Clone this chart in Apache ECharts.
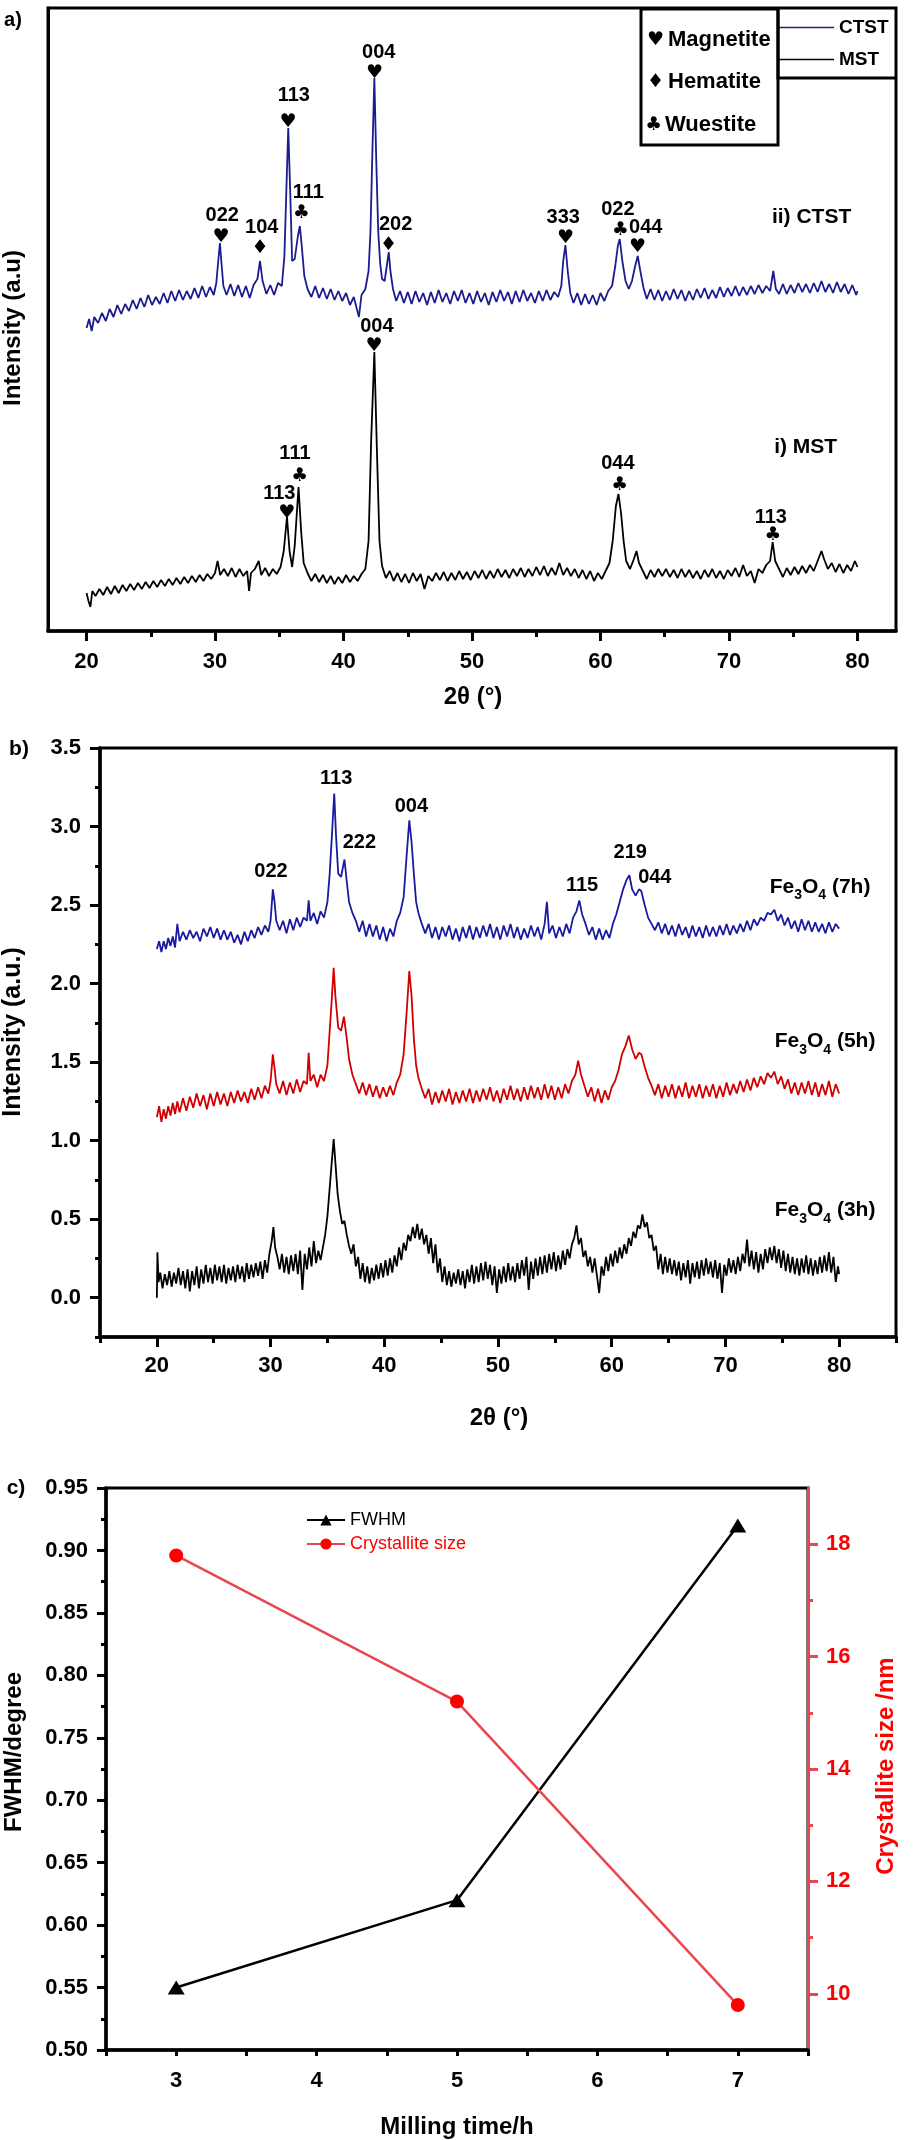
<!DOCTYPE html>
<html>
<head>
<meta charset="utf-8">
<script src="https://cdn.jsdelivr.net/npm/echarts@6/dist/echarts.min.js"></script>
<style>html,body{margin:0;padding:0;background:#fff;}#c{width:913px;height:2140px;}</style>
</head>
<body>
<div id="c"></div>
<script>
// ---------------- Panel a: XRD of CTST / MST (relative intensity, arbitrary units) ----------------
const ctst = [[20.0,303],[20.2,312],[20.4,300],[20.6,314],[20.9,308],[21.2,318],[21.5,310],[21.8,322],[22.1,314],[22.4,326],[22.7,317],[23.0,327],[23.3,320],[23.6,331],[23.9,322],[24.2,333],[24.5,324],[24.8,336],[25.1,326],[25.4,334],[25.7,327],[26.0,338],[26.3,328],[26.6,340],[26.9,330],[27.2,341],[27.5,331],[27.8,340],[28.1,332],[28.4,343],[28.7,333],[29.0,345],[29.3,334],[29.6,344],[29.9,336],[30.1,348],[30.25,370],[30.38,388],[30.5,368],[30.65,345],[30.9,336],[31.2,347],[31.5,335],[31.8,346],[32.1,334],[32.4,345],[32.7,333],[33.0,346],[33.3,352],[33.5,370],[33.7,350],[34.0,337],[34.3,346],[34.6,336],[34.9,348],[35.2,345],[35.4,375],[35.55,440],[35.7,503],[35.85,440],[36.0,370],[36.2,372],[36.45,395],[36.6,405],[36.75,385],[36.95,355],[37.2,342],[37.5,334],[37.8,345],[38.1,333],[38.4,343],[38.7,332],[39.0,342],[39.3,331],[39.6,340],[39.9,330],[40.2,338],[40.5,326],[40.8,334],[41.0,324],[41.2,314],[41.4,336],[41.7,342],[41.95,360],[42.1,400],[42.25,480],[42.4,553],[42.55,470],[42.7,400],[42.85,368],[43.0,352],[43.2,350],[43.4,368],[43.52,379],[43.65,360],[43.85,342],[44.1,330],[44.4,340],[44.7,328],[45.0,339],[45.3,327],[45.6,340],[45.9,329],[46.2,338],[46.5,326],[46.8,339],[47.1,328],[47.4,341],[47.7,329],[48.0,338],[48.3,327],[48.6,340],[48.9,330],[49.2,341],[49.5,328],[49.8,338],[50.1,327],[50.4,340],[50.7,329],[51.0,338],[51.3,326],[51.6,339],[51.9,329],[52.2,341],[52.5,330],[52.8,339],[53.1,327],[53.4,340],[53.7,329],[54.0,341],[54.3,330],[54.6,338],[54.9,328],[55.2,340],[55.5,330],[55.8,341],[56.1,331],[56.4,339],[56.7,334],[56.95,345],[57.1,370],[57.27,386],[57.45,360],[57.65,338],[57.9,328],[58.2,338],[58.5,326],[58.8,337],[59.1,327],[59.4,336],[59.7,326],[60.0,338],[60.3,330],[60.6,340],[60.9,345],[61.15,365],[61.35,385],[61.5,392],[61.7,370],[61.95,350],[62.2,342],[62.45,350],[62.7,365],[62.9,375],[63.1,360],[63.35,343],[63.6,332],[63.9,342],[64.2,331],[64.5,341],[64.8,330],[65.1,340],[65.4,331],[65.7,342],[66.0,332],[66.3,341],[66.6,330],[66.9,340],[67.2,331],[67.5,342],[67.8,333],[68.1,343],[68.4,332],[68.7,341],[69.0,333],[69.3,344],[69.6,334],[69.9,343],[70.2,335],[70.5,345],[70.8,335],[71.1,344],[71.4,336],[71.7,345],[72.0,337],[72.3,346],[72.6,338],[72.9,345],[73.2,340],[73.45,360],[73.65,342],[73.9,337],[74.2,347],[74.5,337],[74.8,346],[75.1,338],[75.4,348],[75.7,339],[76.0,347],[76.3,338],[76.6,348],[76.9,339],[77.2,350],[77.5,339],[77.8,347],[78.1,338],[78.4,349],[78.7,339],[79.0,347],[79.3,337],[79.6,346],[79.9,336],[80.0,340]];
const mst = [[20.0,38],[20.15,30],[20.3,24],[20.45,40],[20.7,35],[21.0,42],[21.3,36],[21.6,44],[21.9,37],[22.2,45],[22.5,38],[22.8,46],[23.1,40],[23.4,47],[23.7,41],[24.0,48],[24.3,42],[24.6,49],[24.9,43],[25.2,50],[25.5,44],[25.8,51],[26.1,45],[26.4,52],[26.7,46],[27.0,53],[27.3,47],[27.6,54],[27.9,48],[28.2,55],[28.5,49],[28.8,56],[29.1,50],[29.4,57],[29.7,52],[30.0,58],[30.2,70],[30.4,56],[30.7,62],[31.0,55],[31.3,63],[31.6,54],[31.9,62],[32.2,55],[32.5,60],[32.65,40],[32.8,58],[33.1,62],[33.4,70],[33.6,56],[33.9,63],[34.2,55],[34.5,62],[34.8,57],[35.1,64],[35.35,80],[35.6,114],[35.8,80],[36.0,64],[36.2,85],[36.5,144],[36.7,100],[36.9,68],[37.2,58],[37.5,50],[37.8,57],[38.1,49],[38.4,56],[38.7,48],[39.0,55],[39.3,47],[39.6,54],[39.9,48],[40.2,56],[40.5,49],[40.8,55],[41.1,50],[41.4,57],[41.7,62],[41.95,90],[42.15,190],[42.4,279],[42.6,180],[42.8,90],[43.0,65],[43.3,53],[43.6,60],[43.9,50],[44.2,58],[44.5,49],[44.8,57],[45.1,48],[45.4,58],[45.7,50],[46.0,57],[46.3,42],[46.6,55],[46.9,50],[47.2,58],[47.5,51],[47.8,59],[48.1,50],[48.4,58],[48.7,51],[49.0,60],[49.3,52],[49.6,59],[49.9,51],[50.2,60],[50.5,53],[50.8,61],[51.1,52],[51.4,60],[51.7,53],[52.0,62],[52.3,54],[52.6,61],[52.9,53],[53.2,62],[53.5,55],[53.8,63],[54.1,54],[54.4,62],[54.7,55],[55.0,64],[55.3,56],[55.6,65],[55.9,55],[56.2,63],[56.5,56],[56.8,68],[57.1,56],[57.4,63],[57.7,55],[58.0,62],[58.3,53],[58.6,61],[58.9,52],[59.2,60],[59.5,50],[59.8,58],[60.1,52],[60.4,60],[60.7,68],[60.95,90],[61.2,125],[61.4,137],[61.6,118],[61.8,90],[62.0,70],[62.3,62],[62.6,72],[62.8,80],[63.0,68],[63.3,60],[63.6,52],[63.9,61],[64.2,54],[64.5,62],[64.8,55],[65.1,62],[65.4,54],[65.7,61],[66.0,53],[66.3,62],[66.6,54],[66.9,61],[67.2,53],[67.5,60],[67.8,52],[68.1,61],[68.4,54],[68.7,62],[69.0,53],[69.3,60],[69.6,52],[69.9,61],[70.2,55],[70.5,63],[70.8,54],[71.1,66],[71.4,55],[71.7,60],[72.0,48],[72.3,62],[72.6,58],[72.9,66],[73.2,70],[73.4,89],[73.6,70],[73.9,62],[74.2,54],[74.5,63],[74.8,56],[75.1,64],[75.4,57],[75.7,65],[76.0,58],[76.3,66],[76.6,60],[76.9,70],[77.2,80],[77.4,72],[77.7,62],[78.0,68],[78.3,59],[78.6,67],[78.9,58],[79.2,66],[79.5,60],[79.8,70],[80.0,64]];
const peakLabelsA = [[30.56,416,'022'],[33.64,404,'104'],[36.13,536,'113'],[37.26,439,'111'],[42.74,579,'004'],[44.06,407,'202'],[57.10,414,'333'],[61.35,422,'022'],[63.52,404,'044'],[42.60,305,'004'],[36.22,178,'111'],[35.00,138,'113'],[61.35,168,'044'],[73.26,114,'113']];
const phaseMarksA = [[30.47,394,'♥'],[33.50,383,'♦'],[35.68,509,'♥'],[36.72,418,'♣'],[42.42,558,'♥'],[43.51,386,'♦'],[57.27,393,'♥'],[61.53,401,'♣'],[62.89,384,'♥'],[42.38,285,'♥'],[36.58,155,'♣'],[35.59,118,'♥'],[61.48,146,'♣'],[73.40,96,'♣']];
const sampleLabelsA = [[76.43,414,'ii) CTST'],[75.97,184,'i) MST']];
const aXTicks = [20,30,40,50,60,70,80];
const aXMinor = [25,35,45,55,65,75];

// ---------------- Panel b: Fe3O4 milled 3h / 5h / 7h ----------------
const fe7h = [[20.0,2.22],[20.2,2.27],[20.4,2.20],[20.6,2.27],[20.8,2.22],[21.0,2.29],[21.2,2.24],[21.4,2.30],[21.6,2.23],[21.8,2.38],[22.0,2.27],[22.3,2.33],[22.6,2.28],[22.9,2.34],[23.2,2.29],[23.5,2.33],[23.8,2.27],[24.1,2.35],[24.4,2.30],[24.7,2.36],[25.0,2.29],[25.3,2.35],[25.6,2.28],[25.9,2.34],[26.2,2.28],[26.5,2.33],[26.8,2.26],[27.1,2.31],[27.4,2.25],[27.7,2.33],[28.0,2.27],[28.3,2.34],[28.6,2.29],[28.9,2.36],[29.2,2.31],[29.5,2.37],[29.8,2.33],[30.0,2.40],[30.2,2.60],[30.35,2.52],[30.5,2.40],[30.8,2.34],[31.1,2.40],[31.4,2.32],[31.7,2.41],[32.0,2.34],[32.3,2.42],[32.6,2.36],[32.9,2.42],[33.2,2.40],[33.35,2.53],[33.5,2.40],[33.8,2.45],[34.1,2.38],[34.4,2.46],[34.7,2.42],[35.0,2.52],[35.2,2.70],[35.4,2.95],[35.6,3.21],[35.75,2.95],[35.95,2.70],[36.2,2.68],[36.5,2.79],[36.7,2.65],[36.9,2.52],[37.2,2.45],[37.5,2.40],[37.8,2.33],[38.1,2.40],[38.4,2.30],[38.7,2.38],[39.0,2.30],[39.3,2.37],[39.6,2.28],[39.9,2.36],[40.2,2.27],[40.5,2.35],[40.8,2.30],[41.1,2.40],[41.4,2.45],[41.7,2.55],[41.95,2.80],[42.2,3.04],[42.4,2.90],[42.6,2.70],[42.8,2.52],[43.0,2.45],[43.3,2.38],[43.6,2.32],[43.9,2.38],[44.2,2.29],[44.5,2.36],[44.8,2.28],[45.1,2.36],[45.4,2.30],[45.7,2.37],[46.0,2.28],[46.3,2.35],[46.6,2.27],[46.9,2.36],[47.2,2.29],[47.5,2.37],[47.8,2.28],[48.1,2.36],[48.4,2.29],[48.7,2.37],[49.0,2.30],[49.3,2.38],[49.6,2.29],[49.9,2.36],[50.2,2.28],[50.5,2.37],[50.8,2.30],[51.1,2.38],[51.4,2.29],[51.7,2.36],[52.0,2.28],[52.3,2.35],[52.6,2.29],[52.9,2.37],[53.2,2.30],[53.5,2.36],[53.8,2.28],[54.1,2.38],[54.3,2.52],[54.5,2.32],[54.8,2.37],[55.1,2.29],[55.4,2.36],[55.7,2.30],[56.0,2.38],[56.3,2.32],[56.6,2.42],[56.9,2.46],[57.15,2.53],[57.4,2.44],[57.7,2.38],[58.0,2.31],[58.3,2.36],[58.6,2.28],[58.9,2.35],[59.2,2.28],[59.5,2.34],[59.8,2.29],[60.1,2.38],[60.4,2.44],[60.7,2.52],[61.0,2.60],[61.3,2.66],[61.55,2.69],[61.8,2.60],[62.1,2.56],[62.4,2.60],[62.6,2.59],[62.9,2.50],[63.2,2.42],[63.5,2.38],[63.8,2.34],[64.1,2.39],[64.4,2.32],[64.7,2.38],[65.0,2.31],[65.3,2.37],[65.6,2.30],[65.9,2.38],[66.2,2.31],[66.5,2.36],[66.8,2.29],[67.1,2.37],[67.4,2.30],[67.7,2.36],[68.0,2.29],[68.3,2.37],[68.6,2.30],[68.9,2.36],[69.2,2.30],[69.5,2.37],[69.8,2.31],[70.1,2.38],[70.4,2.31],[70.7,2.37],[71.0,2.32],[71.3,2.38],[71.6,2.33],[71.9,2.40],[72.2,2.34],[72.5,2.41],[72.8,2.37],[73.1,2.42],[73.4,2.40],[73.7,2.45],[74.0,2.44],[74.3,2.47],[74.6,2.40],[74.9,2.44],[75.2,2.37],[75.5,2.42],[75.8,2.35],[76.1,2.40],[76.4,2.33],[76.7,2.41],[77.0,2.34],[77.3,2.40],[77.6,2.33],[77.9,2.39],[78.2,2.33],[78.5,2.38],[78.8,2.32],[79.1,2.39],[79.4,2.33],[79.7,2.38],[80.0,2.35]];
const fe5h = [[20.0,1.15],[20.2,1.22],[20.4,1.12],[20.6,1.20],[20.8,1.14],[21.0,1.22],[21.2,1.16],[21.4,1.24],[21.6,1.17],[21.8,1.25],[22.0,1.18],[22.3,1.27],[22.6,1.19],[22.9,1.28],[23.2,1.21],[23.5,1.30],[23.8,1.22],[24.1,1.29],[24.4,1.20],[24.7,1.30],[25.0,1.22],[25.3,1.31],[25.6,1.23],[25.9,1.30],[26.2,1.22],[26.5,1.31],[26.8,1.24],[27.1,1.32],[27.4,1.25],[27.7,1.31],[28.0,1.24],[28.3,1.33],[28.6,1.26],[28.9,1.34],[29.2,1.27],[29.5,1.35],[29.8,1.30],[30.0,1.38],[30.2,1.55],[30.35,1.46],[30.5,1.36],[30.8,1.30],[31.1,1.38],[31.4,1.29],[31.7,1.37],[32.0,1.30],[32.3,1.39],[32.6,1.31],[32.9,1.38],[33.2,1.36],[33.35,1.56],[33.5,1.38],[33.8,1.42],[34.1,1.34],[34.4,1.42],[34.7,1.38],[35.0,1.48],[35.2,1.70],[35.4,1.92],[35.55,2.10],[35.7,1.92],[35.95,1.72],[36.2,1.70],[36.45,1.79],[36.7,1.65],[36.9,1.52],[37.2,1.42],[37.5,1.36],[37.8,1.30],[38.1,1.37],[38.4,1.29],[38.7,1.36],[39.0,1.28],[39.3,1.35],[39.6,1.27],[39.9,1.34],[40.2,1.28],[40.5,1.35],[40.8,1.29],[41.1,1.37],[41.4,1.42],[41.7,1.55],[41.95,1.80],[42.2,2.08],[42.4,1.92],[42.6,1.65],[42.8,1.48],[43.0,1.40],[43.3,1.33],[43.6,1.27],[43.9,1.33],[44.2,1.23],[44.5,1.31],[44.8,1.24],[45.1,1.32],[45.4,1.25],[45.7,1.33],[46.0,1.23],[46.3,1.31],[46.6,1.24],[46.9,1.32],[47.2,1.25],[47.5,1.33],[47.8,1.24],[48.1,1.32],[48.4,1.25],[48.7,1.33],[49.0,1.26],[49.3,1.34],[49.6,1.25],[49.9,1.32],[50.2,1.24],[50.5,1.33],[50.8,1.26],[51.1,1.35],[51.4,1.26],[51.7,1.33],[52.0,1.25],[52.3,1.34],[52.6,1.26],[52.9,1.35],[53.2,1.27],[53.5,1.34],[53.8,1.26],[54.1,1.36],[54.4,1.27],[54.7,1.35],[55.0,1.26],[55.3,1.34],[55.6,1.27],[55.9,1.36],[56.2,1.30],[56.5,1.38],[56.8,1.42],[57.05,1.51],[57.3,1.42],[57.6,1.35],[57.9,1.28],[58.2,1.34],[58.5,1.25],[58.8,1.33],[59.1,1.24],[59.4,1.32],[59.7,1.26],[60.0,1.34],[60.3,1.38],[60.6,1.45],[60.9,1.55],[61.2,1.60],[61.5,1.67],[61.8,1.58],[62.1,1.52],[62.4,1.56],[62.6,1.55],[62.9,1.47],[63.2,1.40],[63.5,1.35],[63.8,1.29],[64.1,1.36],[64.4,1.27],[64.7,1.35],[65.0,1.28],[65.3,1.36],[65.6,1.27],[65.9,1.35],[66.2,1.28],[66.5,1.37],[66.8,1.27],[67.1,1.35],[67.4,1.28],[67.7,1.36],[68.0,1.27],[68.3,1.35],[68.6,1.28],[68.9,1.36],[69.2,1.27],[69.5,1.35],[69.8,1.28],[70.1,1.37],[70.4,1.29],[70.7,1.36],[71.0,1.30],[71.3,1.38],[71.6,1.31],[71.9,1.39],[72.2,1.32],[72.5,1.40],[72.8,1.34],[73.1,1.41],[73.4,1.36],[73.7,1.43],[74.0,1.40],[74.3,1.44],[74.6,1.36],[74.9,1.41],[75.2,1.33],[75.5,1.39],[75.8,1.30],[76.1,1.37],[76.4,1.29],[76.7,1.37],[77.0,1.30],[77.3,1.38],[77.6,1.29],[77.9,1.37],[78.2,1.28],[78.5,1.36],[78.8,1.29],[79.1,1.38],[79.4,1.28],[79.7,1.36],[80.0,1.30]];
const fe3h = [[20.0,0.00],[20.05,0.29],[20.15,0.10],[20.3,0.16],[20.5,0.06],[20.7,0.15],[20.9,0.08],[21.1,0.17],[21.3,0.07],[21.5,0.16],[21.7,0.09],[21.9,0.19],[22.1,0.08],[22.3,0.17],[22.5,0.06],[22.7,0.18],[22.9,0.04],[23.1,0.17],[23.3,0.08],[23.5,0.20],[23.7,0.06],[23.9,0.18],[24.1,0.09],[24.3,0.21],[24.5,0.10],[24.7,0.19],[24.9,0.09],[25.1,0.21],[25.3,0.11],[25.5,0.20],[25.7,0.10],[25.9,0.21],[26.1,0.09],[26.3,0.19],[26.5,0.11],[26.7,0.20],[26.9,0.10],[27.1,0.21],[27.3,0.12],[27.5,0.20],[27.7,0.10],[27.9,0.22],[28.1,0.12],[28.3,0.21],[28.5,0.13],[28.7,0.22],[28.9,0.14],[29.1,0.23],[29.3,0.12],[29.5,0.24],[29.7,0.16],[29.9,0.28],[30.1,0.36],[30.25,0.45],[30.4,0.32],[30.6,0.26],[30.8,0.18],[31.0,0.28],[31.2,0.16],[31.4,0.26],[31.6,0.15],[31.8,0.27],[32.0,0.17],[32.2,0.28],[32.4,0.15],[32.6,0.30],[32.8,0.05],[33.0,0.28],[33.2,0.18],[33.4,0.32],[33.6,0.20],[33.8,0.36],[34.0,0.22],[34.2,0.30],[34.4,0.24],[34.6,0.32],[34.8,0.40],[35.0,0.52],[35.2,0.70],[35.4,0.88],[35.55,1.01],[35.7,0.86],[35.9,0.66],[36.1,0.55],[36.3,0.47],[36.5,0.49],[36.7,0.40],[36.9,0.33],[37.1,0.28],[37.3,0.34],[37.5,0.20],[37.7,0.26],[37.9,0.12],[38.1,0.22],[38.3,0.10],[38.5,0.20],[38.7,0.09],[38.9,0.19],[39.1,0.11],[39.3,0.21],[39.5,0.12],[39.7,0.22],[39.9,0.13],[40.1,0.24],[40.3,0.14],[40.5,0.25],[40.7,0.16],[40.9,0.27],[41.1,0.20],[41.3,0.32],[41.5,0.24],[41.7,0.35],[41.9,0.30],[42.1,0.40],[42.3,0.36],[42.5,0.45],[42.7,0.38],[42.9,0.47],[43.1,0.37],[43.3,0.44],[43.5,0.34],[43.7,0.40],[43.9,0.28],[44.1,0.38],[44.3,0.22],[44.5,0.34],[44.7,0.16],[44.9,0.25],[45.1,0.10],[45.3,0.20],[45.5,0.08],[45.7,0.17],[45.9,0.07],[46.1,0.16],[46.3,0.09],[46.5,0.18],[46.7,0.08],[46.9,0.17],[47.1,0.06],[47.3,0.18],[47.5,0.10],[47.7,0.21],[47.9,0.09],[48.1,0.20],[48.3,0.10],[48.5,0.22],[48.7,0.11],[48.9,0.23],[49.1,0.12],[49.3,0.21],[49.5,0.08],[49.7,0.20],[49.9,0.03],[50.1,0.18],[50.3,0.09],[50.5,0.20],[50.7,0.10],[50.9,0.22],[51.1,0.11],[51.3,0.20],[51.5,0.10],[51.7,0.22],[51.9,0.12],[52.1,0.24],[52.3,0.14],[52.5,0.26],[52.7,0.05],[52.9,0.23],[53.1,0.12],[53.3,0.25],[53.5,0.14],[53.7,0.26],[53.9,0.15],[54.1,0.27],[54.3,0.16],[54.5,0.28],[54.7,0.18],[54.9,0.29],[55.1,0.17],[55.3,0.27],[55.5,0.18],[55.7,0.30],[55.9,0.21],[56.1,0.31],[56.3,0.25],[56.5,0.34],[56.7,0.38],[56.9,0.46],[57.1,0.34],[57.3,0.38],[57.5,0.26],[57.7,0.30],[57.9,0.20],[58.1,0.26],[58.3,0.16],[58.5,0.25],[58.7,0.14],[58.9,0.03],[59.1,0.20],[59.3,0.14],[59.5,0.26],[59.7,0.17],[59.9,0.28],[60.1,0.20],[60.3,0.30],[60.5,0.22],[60.7,0.32],[60.9,0.25],[61.1,0.34],[61.3,0.28],[61.5,0.38],[61.7,0.33],[61.9,0.42],[62.1,0.38],[62.3,0.46],[62.5,0.44],[62.7,0.53],[62.9,0.45],[63.1,0.48],[63.3,0.38],[63.5,0.40],[63.7,0.30],[63.9,0.33],[64.1,0.18],[64.3,0.28],[64.5,0.15],[64.7,0.26],[64.9,0.16],[65.1,0.25],[65.3,0.15],[65.5,0.24],[65.7,0.14],[65.9,0.23],[66.1,0.11],[66.3,0.22],[66.5,0.13],[66.7,0.24],[66.9,0.09],[67.1,0.22],[67.3,0.13],[67.5,0.23],[67.7,0.12],[67.9,0.24],[68.1,0.14],[68.3,0.25],[68.5,0.15],[68.7,0.23],[68.9,0.13],[69.1,0.24],[69.3,0.12],[69.5,0.22],[69.7,0.03],[69.9,0.21],[70.1,0.14],[70.3,0.25],[70.5,0.16],[70.7,0.24],[70.9,0.15],[71.1,0.26],[71.3,0.17],[71.5,0.28],[71.7,0.22],[71.9,0.37],[72.1,0.20],[72.3,0.30],[72.5,0.18],[72.7,0.29],[72.9,0.16],[73.1,0.28],[73.3,0.18],[73.5,0.31],[73.7,0.22],[73.9,0.32],[74.1,0.24],[74.3,0.33],[74.5,0.22],[74.7,0.31],[74.9,0.19],[75.1,0.30],[75.3,0.17],[75.5,0.28],[75.7,0.16],[75.9,0.26],[76.1,0.15],[76.3,0.25],[76.5,0.14],[76.7,0.25],[76.9,0.16],[77.1,0.27],[77.3,0.15],[77.5,0.25],[77.7,0.14],[77.9,0.24],[78.1,0.15],[78.3,0.26],[78.5,0.16],[78.7,0.27],[78.9,0.17],[79.1,0.29],[79.3,0.16],[79.5,0.26],[79.7,0.10],[79.9,0.20],[80.0,0.15]];
const peakLabelsB = [[30.04,2.713,'022'],[35.77,3.309,'113'],[37.81,2.896,'222'],[42.38,3.130,'004'],[57.39,2.623,'115'],[61.63,2.832,'219'],[63.79,2.677,'044']];
const sampleLabelsB = [[78.32,2.607,'7h'],[78.76,1.623,'5h'],[78.76,0.548,'3h']];
const bXTicks = [20,30,40,50,60,70,80];
const bXMinor = [15,25,35,45,55,65,75,85];
const bYTicks = [0,0.5,1.0,1.5,2.0,2.5,3.0,3.5];
const bYMinor = [-0.25,0.25,0.75,1.25,1.75,2.25,2.75,3.25];

// ---------------- Panel c: FWHM and crystallite size vs milling time ----------------
const millingTime = [3,5,7];
const fwhm = [0.55,0.62,0.92];
const crystalliteSize = [17.8,15.2,9.8];
const cRightTicks = [10,12,14,16,18];
const cRightMinor = [11,13,15,17];

const FONT = "'Liberation Sans', Arial, 'DejaVu Sans', sans-serif";
const SYMFONT = "'DejaVu Sans', sans-serif";
const BLACK = '#000';
const RED_LINE = '#e8474f';
const RED = '#ff0000';

const tickLbl = (extra) => Object.assign({fontSize:22, fontWeight:'bold', color:BLACK, fontFamily:FONT}, extra||{});
const pair = d => d.map(p => [p[0], p[1]]);
const ann = d => d.map(p => [p[0], p[1], p[2]]);

const chart = echarts.init(document.getElementById('c'), null, {renderer:'canvas'});

const hidden = {show:false};
function minorAxis(gridIndex, min, max, values, pos, color, len) {
  return {gridIndex, type:'value', min, max, position:pos,
    axisLine:{show:false, onZero:false},
    axisTick:{show:true, customValues:values, length:len, lineStyle:{color:color||BLACK, width:3}},
    axisLabel:{show:false}, splitLine:hidden};
}
function textSeries(name, xi, yi, data, lbl) {
  return {name, type:'scatter', xAxisIndex:xi, yAxisIndex:yi, data, symbolSize:0.1, silent:true, z:5,
    itemStyle:{color:'transparent', opacity:1},
    label:Object.assign({show:true, position:'inside', opacity:1, formatter:p => p.value[2]}, lbl),
    emphasis:{disabled:true}};
}

const option = {
  animation:false,
  backgroundColor:'#fff',
  grid:[
    {left:48, top:8, width:848, height:623, show:true, borderColor:BLACK, borderWidth:3, containLabel:false},
    {left:100, top:748, width:796, height:589, show:true, borderColor:BLACK, borderWidth:3, containLabel:false},
    {left:106, top:1488, width:702, height:562, show:true, borderColor:BLACK, borderWidth:3, containLabel:false}
  ],
  xAxis:[
    {gridIndex:0, type:'value', min:17, max:83, position:'bottom',
      axisLine:{onZero:false, lineStyle:{color:BLACK, width:3.5}},
      axisTick:{customValues:aXTicks, length:10, lineStyle:{color:BLACK, width:3}},
      axisLabel:tickLbl({customValues:aXTicks, margin:20}), splitLine:hidden},
    minorAxis(0,17,83,aXMinor,'bottom',BLACK,6),
    {gridIndex:1, type:'value', min:15, max:85, position:'bottom',
      axisLine:{onZero:false, lineStyle:{color:BLACK, width:3.5}},
      axisTick:{customValues:bXTicks, length:10, lineStyle:{color:BLACK, width:3}},
      axisLabel:tickLbl({customValues:bXTicks, margin:18}), splitLine:hidden},
    minorAxis(1,15,85,bXMinor,'bottom',BLACK,6),
    {gridIndex:2, type:'value', min:2.5, max:7.5, interval:0.5, position:'bottom',
      axisLine:{onZero:false, lineStyle:{color:BLACK, width:3.5}},
      axisTick:{length:6, lineStyle:{color:BLACK, width:3}},
      axisLabel:tickLbl({margin:20, formatter:v => (Math.abs(v - Math.round(v)) < 1e-6 ? String(Math.round(v)) : '')}),
      splitLine:hidden}
  ],
  yAxis:[
    {gridIndex:0, type:'value', min:0, max:623, position:'left',
      axisLine:{show:true, onZero:false, lineStyle:{color:BLACK, width:3}},
      axisTick:hidden, axisLabel:hidden, splitLine:hidden},
    {gridIndex:1, type:'value', min:-0.25, max:3.5, position:'left',
      axisLine:{show:true, onZero:false, lineStyle:{color:BLACK, width:3.5}},
      axisTick:{customValues:bYTicks, length:10, lineStyle:{color:BLACK, width:3}},
      axisLabel:tickLbl({customValues:bYTicks, margin:19, formatter:v => v.toFixed(1)}), splitLine:hidden},
    minorAxis(1,-0.25,3.5,bYMinor,'left',BLACK,5),
    {gridIndex:2, type:'value', min:0.5, max:0.95, interval:0.05, position:'left',
      axisLine:{show:true, onZero:false, lineStyle:{color:BLACK, width:3.5}},
      axisTick:{length:9, lineStyle:{color:BLACK, width:3}},
      minorTick:{show:true, splitNumber:2, length:5, lineStyle:{color:BLACK, width:3}},
      axisLabel:tickLbl({margin:18, formatter:v => v.toFixed(2)}), splitLine:hidden, minorSplitLine:hidden},
    {gridIndex:2, type:'value', min:9, max:19, position:'right',
      axisLine:{show:true, onZero:false, lineStyle:{color:RED_LINE, width:3}},
      axisTick:{customValues:cRightTicks, length:10, lineStyle:{color:RED_LINE, width:3}},
      axisLabel:tickLbl({customValues:cRightTicks, margin:18, color:RED}), splitLine:hidden},
    minorAxis(2,9,19,cRightMinor,'right',RED_LINE,5)
  ],
  legend:[
    {data:['CTST','MST'], left:778, top:18, orient:'vertical', padding:0, itemGap:13,
      icon:'rect', itemWidth:56, itemHeight:1.6, selectedMode:false,
      textStyle:{fontSize:19, fontWeight:'bold', color:BLACK, fontFamily:FONT, lineHeight:19}},
    {data:[{name:'FWHM', textStyle:{color:BLACK}}, {name:'Crystallite size', textStyle:{color:RED}}],
      left:306, top:1511, orient:'vertical', padding:0, itemGap:6, itemWidth:38, itemHeight:14,
      selectedMode:false, textStyle:{fontSize:18, color:BLACK, fontFamily:FONT}}
  ],
  series:[
    {name:'CTST', type:'line', xAxisIndex:0, yAxisIndex:0, data:pair(ctst), showSymbol:false, symbol:'none',
      lineStyle:{color:'#1c1c90', width:1.8}, itemStyle:{color:'#1c1c90'}},
    {name:'MST', type:'line', xAxisIndex:0, yAxisIndex:0, data:pair(mst), showSymbol:false, symbol:'none',
      lineStyle:{color:BLACK, width:1.8}, itemStyle:{color:BLACK}},
    textSeries('peakA',0,0,ann(peakLabelsA),{fontSize:20, fontWeight:'bold', color:BLACK, fontFamily:FONT}),
    textSeries('phaseA',0,0,ann(phaseMarksA),{fontSize:19, color:BLACK, fontFamily:SYMFONT}),
    textSeries('sampleA',0,0,ann(sampleLabelsA),{fontSize:21, fontWeight:'bold', color:BLACK, fontFamily:FONT}),
    {name:'Fe3O4 (7h)', type:'line', xAxisIndex:2, yAxisIndex:1, data:pair(fe7h), showSymbol:false, symbol:'none',
      lineStyle:{color:'#1a1aa0', width:1.8}},
    {name:'Fe3O4 (5h)', type:'line', xAxisIndex:2, yAxisIndex:1, data:pair(fe5h), showSymbol:false, symbol:'none',
      lineStyle:{color:'#d10000', width:1.8}},
    {name:'Fe3O4 (3h)', type:'line', xAxisIndex:2, yAxisIndex:1, data:pair(fe3h), showSymbol:false, symbol:'none',
      lineStyle:{color:BLACK, width:1.8}},
    textSeries('peakB',2,1,ann(peakLabelsB),{fontSize:20, fontWeight:'bold', color:BLACK, fontFamily:FONT}),
    textSeries('sampleB',2,1,ann(sampleLabelsB),{
        formatter:p => '{n|Fe}{s|3}{n|O}{s|4}{n| (' + p.value[2] + ')}',
        rich:{
          n:{fontSize:21, fontWeight:'bold', color:BLACK, fontFamily:FONT, verticalAlign:'top', lineHeight:24},
          s:{fontSize:14, fontWeight:'bold', color:BLACK, fontFamily:FONT, verticalAlign:'top', lineHeight:14, padding:[12,0,0,0]}
        }}),
    {name:'FWHM', type:'line', xAxisIndex:4, yAxisIndex:3, data:millingTime.map((t,i)=>[t,fwhm[i]]),
      symbol:'triangle', symbolSize:[17,14], showSymbol:true,
      lineStyle:{color:BLACK, width:2.5}, itemStyle:{color:BLACK}},
    {name:'Crystallite size', type:'line', xAxisIndex:4, yAxisIndex:4, data:millingTime.map((t,i)=>[t,crystalliteSize[i]]),
      symbol:'circle', symbolSize:14, showSymbol:true,
      lineStyle:{color:RED_LINE, width:2.5}, itemStyle:{color:RED}}
  ],
  graphic:[
    {type:'text', x:13, y:20, style:{text:'a)', font:'bold 20px ' + FONT, fill:BLACK, align:'center', verticalAlign:'middle'}},
    {type:'text', x:19, y:749, style:{text:'b)', font:'bold 21px ' + FONT, fill:BLACK, align:'center', verticalAlign:'middle'}},
    {type:'text', x:16, y:1488, style:{text:'c)', font:'bold 21px ' + FONT, fill:BLACK, align:'center', verticalAlign:'middle'}},
    {type:'text', x:13, y:328, rotation:Math.PI/2, style:{text:'Intensity (a.u)', font:'bold 24px ' + FONT, fill:BLACK, align:'center', verticalAlign:'middle'}},
    {type:'text', x:473, y:697, style:{text:'2θ (°)', font:'bold 24px ' + FONT, fill:BLACK, align:'center', verticalAlign:'middle'}},
    {type:'text', x:13, y:1032, rotation:Math.PI/2, style:{text:'Intensity (a.u.)', font:'bold 25px ' + FONT, fill:BLACK, align:'center', verticalAlign:'middle'}},
    {type:'text', x:499, y:1418, style:{text:'2θ (°)', font:'bold 24px ' + FONT, fill:BLACK, align:'center', verticalAlign:'middle'}},
    {type:'text', x:14, y:1752, rotation:Math.PI/2, style:{text:'FWHM/degree', font:'bold 24px ' + FONT, fill:BLACK, align:'center', verticalAlign:'middle'}},
    {type:'text', x:886, y:1766, rotation:Math.PI/2, style:{text:'Crystallite size /nm', font:'bold 24px ' + FONT, fill:RED, align:'center', verticalAlign:'middle'}},
    {type:'text', x:457, y:2127, style:{text:'Milling time/h', font:'bold 24px ' + FONT, fill:BLACK, align:'center', verticalAlign:'middle'}},
    // phase-key box of panel a
    {type:'rect', shape:{x:641, y:9, width:137, height:136}, style:{fill:'#fff', stroke:BLACK, lineWidth:3}, z:50},
    {type:'text', x:647, y:40, z:51, style:{text:'♥', font:'19px ' + SYMFONT, fill:BLACK, align:'left', verticalAlign:'middle'}},
    {type:'text', x:668, y:40, z:51, style:{text:'Magnetite', font:'bold 22px ' + FONT, fill:BLACK, align:'left', verticalAlign:'middle'}},
    {type:'text', x:647, y:82, z:51, style:{text:'♦', font:'19px ' + SYMFONT, fill:BLACK, align:'left', verticalAlign:'middle'}},
    {type:'text', x:668, y:82, z:51, style:{text:'Hematite', font:'bold 22px ' + FONT, fill:BLACK, align:'left', verticalAlign:'middle'}},
    {type:'text', x:645, y:125, z:51, style:{text:'♣', font:'19px ' + SYMFONT, fill:BLACK, align:'left', verticalAlign:'middle'}},
    {type:'text', x:665, y:125, z:51, style:{text:'Wuestite', font:'bold 22px ' + FONT, fill:BLACK, align:'left', verticalAlign:'middle'}},
    // series-key box outline of panel a
    {type:'polyline', shape:{points:[[778,7],[778,78],[896,78]]}, style:{stroke:BLACK, lineWidth:3, fill:null}, z:50}
  ]
};
chart.setOption(option);
</script>
</body>
</html>
